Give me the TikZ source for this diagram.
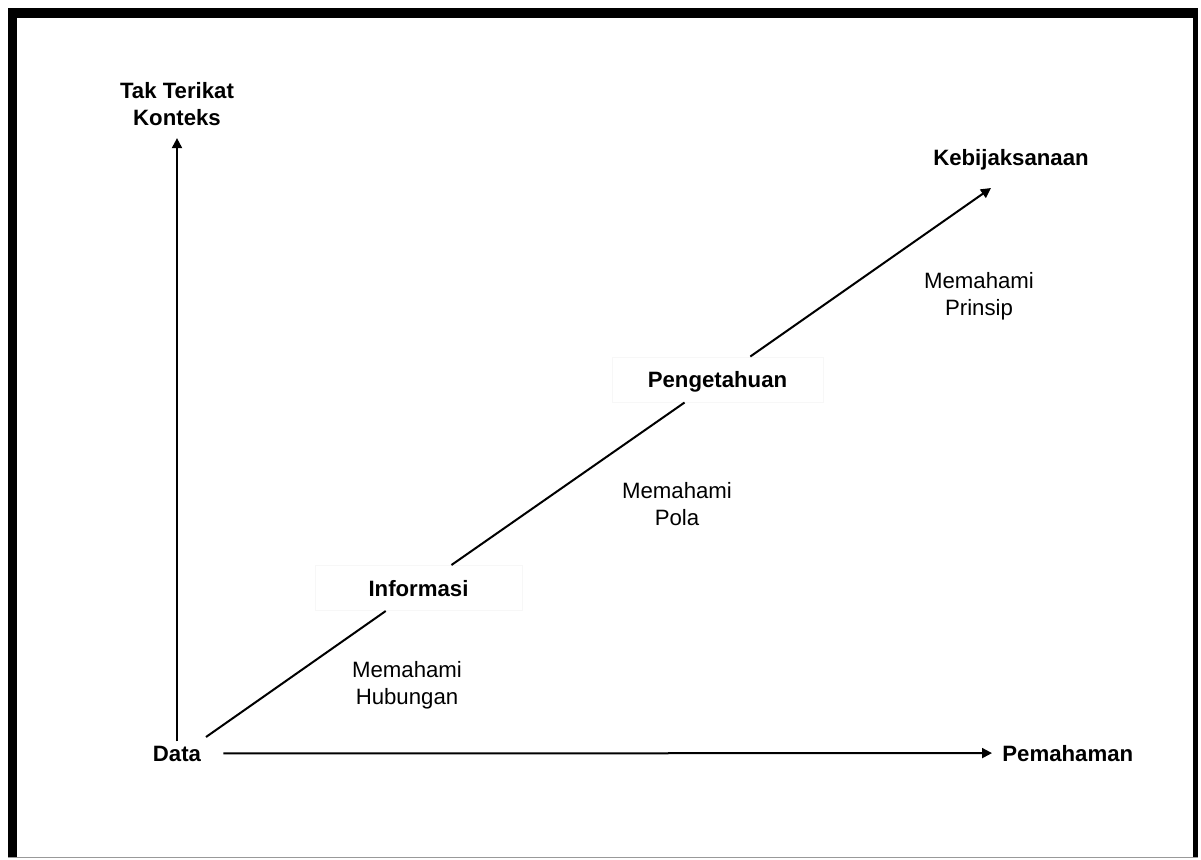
\documentclass[tikz,border=0pt]{standalone}
\usepackage{fontspec}
\setmainfont{Liberation Sans}
\usetikzlibrary{arrows.meta, positioning}
\tikzset{%
    frame/.style={%
        fill=black
    },
    axis/.style={%
        -{Triangle[length=5pt, width=5pt]}, line width=1pt
    },
}
\begin{document}
\begin{tikzpicture}[
        x=0.5pt, y=-0.5pt,
        every node/.style={inner sep=0, font=\fontsize{11.1}{13.5}\selectfont},
        stage/.style={font=\fontsize{11.1}{13.5}\selectfont\bfseries},
        stagebox/.style={stage, fill=white, draw=black!3, line width=0.5pt, minimum width=103.5pt, minimum height=22.5pt, text depth=0pt},
        hint/.style={align=center, anchor=north},
        diag/.style={line width=1pt},
    ]
        \fill[white] (0,0) rectangle (1201,859);
        \useasboundingbox (0,0) rectangle (1201,859);

        % frame
        \fill[frame] (8,8) rectangle (1198,18);
        \fill[frame] (8,8) rectangle (17,858);
        \fill[frame] (1193,8) rectangle (1198,858);
        \draw[black!40, line width=0.5pt] (8,857.5) -- (1198,857.5);

        \node[stage, anchor=base] (data) at (177,761) {Data};
        \node[stage, anchor=base west] (pemahaman) at (1002,761) {Pemahaman};
        \node[stage, align=center, anchor=north] (konteks) at (177,82) {Tak Terikat\\Konteks};
        \node[stage, anchor=base] (bijak) at (1011,165) {Kebijaksanaan};

        \node[stagebox] (informasi) at (418.5,588) {Informasi};
        \node[stagebox, minimum width=105.5pt] (pengetahuan) at (717.5,379.5) {Pengetahuan};

        \node[hint] (hubungan) at (407,661) {Memahami\\Hubungan};
        \node[hint] (pola) at (677,482) {Memahami\\Pola};
        \node[hint] (prinsip) at (979,272) {Memahami\\Prinsip};

        \coordinate (d0) at (206,737);
        \coordinate (d1) at (991,188);

        \draw[axis, shorten <=2pt, shorten >=6pt] (data.north) -- (data.north |- konteks.south);
        \draw[axis, shorten <=11pt, shorten >=5pt] (data.east) -- (pemahaman.west);

        \draw[diag] (d0) -- (informasi);
        \draw[diag] (informasi) -- (pengetahuan);
        \draw[axis] (pengetahuan) -- (d1);
\end{tikzpicture}
\end{document}
